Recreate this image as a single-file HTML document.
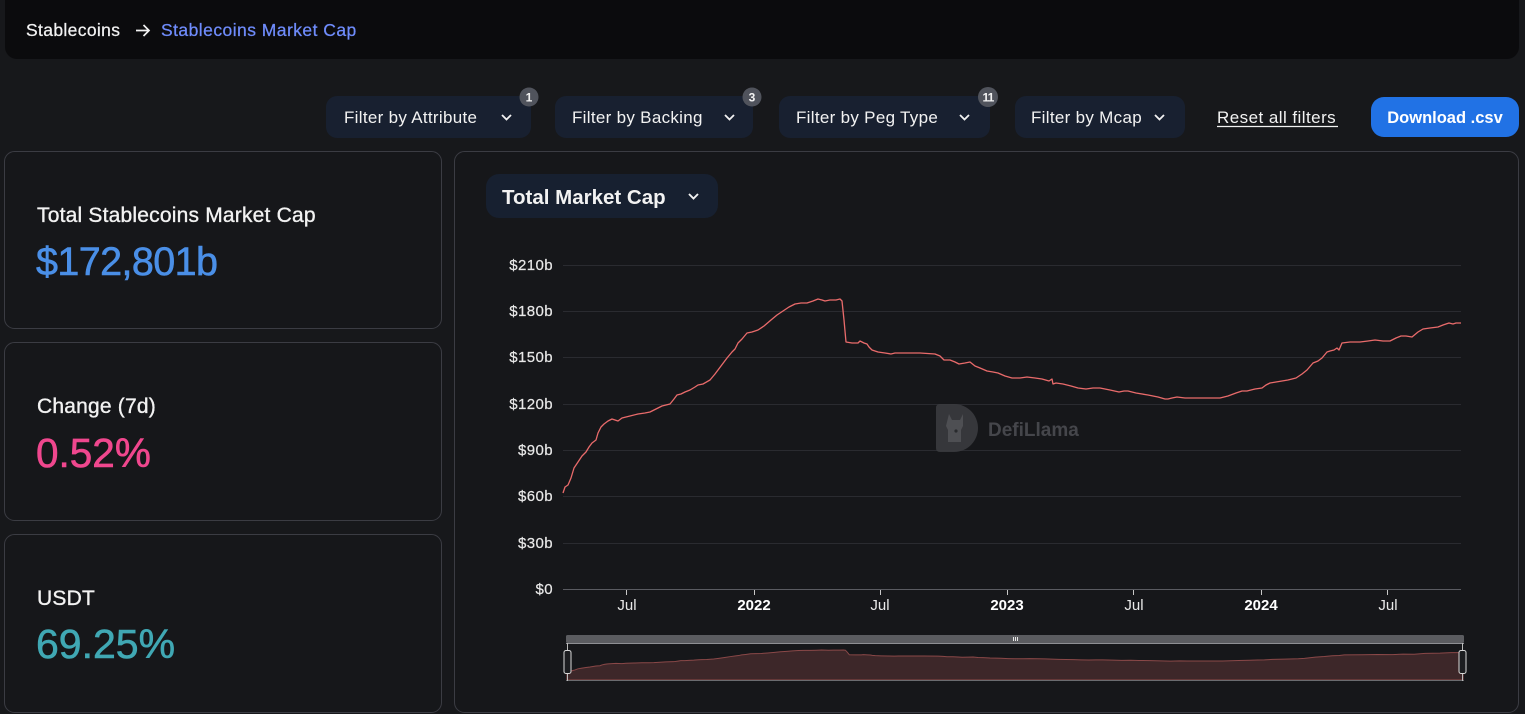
<!DOCTYPE html>
<html><head><meta charset="utf-8"><style>
html,body{margin:0;padding:0;background:#17181b;width:1525px;height:714px;overflow:hidden}
svg{display:block}
text{font-family:"Liberation Sans",Arial,sans-serif}
</style></head><body>
<svg width="1525" height="714" viewBox="0 0 1525 714" xmlns="http://www.w3.org/2000/svg">
<rect x="0" y="0" width="1525" height="714" fill="#17181b"/>
<!-- header -->
<rect x="5" y="-12" width="1514" height="71" rx="12" fill="#0b0b0d"/>
<text x="26" y="36" font-size="17.5" fill="#f2f2f2" stroke="#f2f2f2" stroke-width="0.25" letter-spacing="0.35">Stablecoins</text>
<path d="M136 30.5 H149 M143.5 25 L149 30.5 L143.5 36" stroke="#f2f2f2" stroke-width="1.7" fill="none"/>
<text x="161" y="36" font-size="17.5" fill="#6f8cfb" stroke="#6f8cfb" stroke-width="0.25" letter-spacing="0.45">Stablecoins Market Cap</text>

<!-- filter buttons -->
<g font-size="17" fill="#f2f2f2" letter-spacing="0.3">
<rect x="326" y="96" width="205" height="42" rx="11" fill="#182030"/>
<text x="344" y="123">Filter by Attribute</text>
<rect x="555" y="96" width="198" height="42" rx="11" fill="#182030"/>
<text x="572" y="123">Filter by Backing</text>
<rect x="779" y="96" width="211" height="42" rx="11" fill="#182030"/>
<text x="796" y="123">Filter by Peg Type</text>
<rect x="1015" y="96" width="170" height="42" rx="11" fill="#182030"/>
<text x="1031" y="123">Filter by Mcap</text>
</g>
<g stroke="#f2f2f2" stroke-width="1.8" fill="none">
<path d="M502 115 l4.5 4.5 l4.5 -4.5"/>
<path d="M725 115 l4.5 4.5 l4.5 -4.5"/>
<path d="M960 115 l4.5 4.5 l4.5 -4.5"/>
<path d="M1155 115 l4.5 4.5 l4.5 -4.5"/>
</g>
<g font-size="12" font-weight="bold" fill="#f2f2f2" text-anchor="middle">
<circle cx="529" cy="97" r="9.5" fill="#50535c"/><text x="529" y="101.5">1</text>
<circle cx="752" cy="97" r="9.5" fill="#50535c"/><text x="752" y="101.5">3</text>
<circle cx="988" cy="97" r="10" fill="#50535c"/><text x="988" y="101.5" letter-spacing="-0.8">11</text>
</g>
<text x="1217" y="123" font-size="17" fill="#f2f2f2" letter-spacing="0.45">Reset all filters</text>
<line x1="1217" y1="126.5" x2="1338" y2="126.5" stroke="#f2f2f2" stroke-width="1.2"/>
<rect x="1371" y="97" width="148" height="40" rx="13" fill="#2172e5"/>
<text x="1445" y="123" font-size="16.5" font-weight="bold" fill="#ffffff" text-anchor="middle">Download .csv</text>

<!-- left cards -->
<rect x="4.5" y="151.5" width="437" height="177" rx="10" fill="#16171a" stroke="#3b3c43"/>
<rect x="4.5" y="342.5" width="437" height="178" rx="10" fill="#16171a" stroke="#3b3c43"/>
<rect x="4.5" y="534.5" width="437" height="178" rx="10" fill="#16171a" stroke="#3b3c43"/>
<g font-size="21" fill="#f2f2f2" stroke="#f2f2f2" stroke-width="0.35" letter-spacing="0.2">
<text x="37" y="222">Total Stablecoins Market Cap</text>
<text x="37" y="413">Change (7d)</text>
<text x="37" y="605">USDT</text>
</g>
<text x="36" y="275" font-size="39.5" fill="#4a8fe7" stroke="#4a8fe7" stroke-width="0.6" letter-spacing="-0.6">$172,801b</text>
<text x="36" y="467" font-size="40.5" fill="#f0478e" stroke="#f0478e" stroke-width="0.6">0.52%</text>
<text x="36" y="658" font-size="41" fill="#40a8b4" stroke="#40a8b4" stroke-width="0.6">69.25%</text>

<!-- chart card -->
<rect x="454.5" y="151.5" width="1064" height="561" rx="10" fill="#16171a" stroke="#3b3c43"/>
<rect x="486" y="174" width="232" height="44" rx="13" fill="#172030"/>
<text x="502" y="204" font-size="20.5" font-weight="bold" fill="#f2f2f2">Total Market Cap</text>
<path d="M689 194 l4.5 4.5 l4.5 -4.5" stroke="#f2f2f2" stroke-width="1.9" fill="none"/>

<!-- grid -->
<g stroke="#2a2b30" stroke-width="1">
<line x1="563" y1="265.5" x2="1461" y2="265.5"/>
<line x1="563" y1="311.5" x2="1461" y2="311.5"/>
<line x1="563" y1="357.5" x2="1461" y2="357.5"/>
<line x1="563" y1="404.5" x2="1461" y2="404.5"/>
<line x1="563" y1="450.5" x2="1461" y2="450.5"/>
<line x1="563" y1="496.5" x2="1461" y2="496.5"/>
<line x1="563" y1="543.5" x2="1461" y2="543.5"/>
</g>
<line x1="563" y1="589.5" x2="1461" y2="589.5" stroke="#5a5b61" stroke-width="1"/>
<g stroke="#c8c8c8" stroke-width="1">
<line x1="626.5" y1="590" x2="626.5" y2="595"/>
<line x1="754.5" y1="590" x2="754.5" y2="595"/>
<line x1="880.5" y1="590" x2="880.5" y2="595"/>
<line x1="1007.5" y1="590" x2="1007.5" y2="595"/>
<line x1="1133.5" y1="590" x2="1133.5" y2="595"/>
<line x1="1261.5" y1="590" x2="1261.5" y2="595"/>
<line x1="1387.5" y1="590" x2="1387.5" y2="595"/>
</g>
<g font-size="15" fill="#e8e8e8" text-anchor="end" letter-spacing="0.4" stroke="#e8e8e8" stroke-width="0.2">
<text x="553" y="270">$210b</text>
<text x="553" y="316">$180b</text>
<text x="553" y="362">$150b</text>
<text x="553" y="409">$120b</text>
<text x="553" y="455">$90b</text>
<text x="553" y="501">$60b</text>
<text x="553" y="548">$30b</text>
<text x="553" y="594">$0</text>
</g>
<g font-size="15" fill="#e8e8e8" text-anchor="middle">
<text x="627" y="610">Jul</text>
<text x="754" y="610" font-weight="bold" fill="#ffffff">2022</text>
<text x="880" y="610">Jul</text>
<text x="1007" y="610" font-weight="bold" fill="#ffffff">2023</text>
<text x="1134" y="610">Jul</text>
<text x="1261" y="610" font-weight="bold" fill="#ffffff">2024</text>
<text x="1388" y="610">Jul</text>
</g>

<!-- watermark -->
<g opacity="0.9">
<path d="M940 404 H954 A24 24 0 0 1 954 452 H940 Q936 452 936 448 V408 Q936 404 940 404 Z" fill="#3a3b3f"/>
<path d="M949 414 l3 6 h8 l3 -6 v12 l-2 4 v12 h-13 v-12 l-2 -4 z" fill="#55565a"/>
<circle cx="956" cy="431" r="1.6" fill="#2c2d30"/>
<text x="988" y="436" font-size="19" font-weight="bold" fill="#4b4c51">DefiLlama</text>
</g>

<!-- main line -->
<polyline fill="none" stroke="#e96b6b" stroke-width="1.3" stroke-linejoin="round" points="563,493 565,487 568,485 571,478 574,468 578,462 582,456 586,452 589,447 592,443 596,440 598,433 601,427 604,424 608,421 612,419 618,421 622,418 630,416 638,414 645,413 650,412 656,409 662,406 670,404 674,399 677,395 681,394 685,392 690,390 695,387 698,385 703,384 710,380 715,374 721,366 727,358 732,352 735,349 738,343 742,339 747,333 752,332 758,330 764,326 771,320 777,315 783,311 789,307 795,304 801,303 807,303 813,301 818,299 822,300 825,301 830,300 836,300 840,299 842,301 844,320 846,342 852,343 858,343 860,341 864,343 867,344 869,347 872,350 878,352 885,353 891,354 895,353 905,353 920,353 935,354 940,356 944,360 950,360 955,362 959,364 965,363 970,362 975,366 980,368 987,371 993,372 998,373 1005,376 1012,378 1020,378 1027,377 1035,378 1042,379 1049,381 1052,379 1053,384 1056,383 1063,384 1071,386 1078,388 1086,389 1093,388 1100,388 1110,390 1119,392 1124,391 1128,391 1136,393 1148,395 1158,397 1165,399 1168,399 1172,398 1177,397 1185,398 1195,398 1207,398 1214,398 1220,398 1228,396 1236,393 1242,391 1247,391 1255,389 1262,388 1266,385 1270,383 1276,382 1282,381 1288,380 1296,378 1302,374 1307,370 1313,363 1318,361 1322,358 1327,352 1330,351 1334,350 1337,348 1339,350 1342,343 1350,342 1360,342 1368,341 1375,340 1383,341 1390,341 1396,338 1401,336 1406,336 1412,337 1418,332 1423,329 1430,328 1438,327 1443,325 1449,323 1453,324 1456,323 1461,323"/>

<!-- data zoom slider -->
<rect x="566" y="635" width="898" height="8" rx="1.5" fill="#5b5c60"/>
<g transform="matrix(0.99777 0 0 0.11145 5.256 616.66)">
<polygon fill="#3d2729" stroke="#8a4848" stroke-width="1" vector-effect="non-scaling-stroke" points="563,568.3 563,493 565,487 568,485 571,478 574,468 578,462 582,456 586,452 589,447 592,443 596,440 598,433 601,427 604,424 608,421 612,419 618,421 622,418 630,416 638,414 645,413 650,412 656,409 662,406 670,404 674,399 677,395 681,394 685,392 690,390 695,387 698,385 703,384 710,380 715,374 721,366 727,358 732,352 735,349 738,343 742,339 747,333 752,332 758,330 764,326 771,320 777,315 783,311 789,307 795,304 801,303 807,303 813,301 818,299 822,300 825,301 830,300 836,300 840,299 842,301 844,320 846,342 852,343 858,343 860,341 864,343 867,344 869,347 872,350 878,352 885,353 891,354 895,353 905,353 920,353 935,354 940,356 944,360 950,360 955,362 959,364 965,363 970,362 975,366 980,368 987,371 993,372 998,373 1005,376 1012,378 1020,378 1027,377 1035,378 1042,379 1049,381 1056,383 1063,384 1071,386 1078,388 1086,389 1093,388 1100,388 1110,390 1119,392 1128,391 1136,393 1148,395 1158,397 1168,399 1177,397 1185,398 1195,398 1207,398 1220,398 1228,396 1236,393 1247,391 1255,389 1262,388 1270,383 1282,381 1296,378 1302,374 1313,363 1322,358 1330,351 1337,348 1342,343 1360,342 1375,340 1390,341 1401,336 1412,337 1423,329 1438,327 1449,323 1461,323 1461,568.3"/>
</g>
<line x1="566" y1="643.5" x2="1464" y2="643.5" stroke="#8e8f93" stroke-width="1"/>
<line x1="566" y1="680.5" x2="1464" y2="680.5" stroke="#6a6b6f" stroke-width="1"/>
<line x1="567.5" y1="643" x2="567.5" y2="681" stroke="#bbbbbb" stroke-width="1"/>
<line x1="1462.5" y1="643" x2="1462.5" y2="681" stroke="#bbbbbb" stroke-width="1"/>
<rect x="564" y="650.5" width="7" height="23" rx="2" fill="#1c1d20" stroke="#d8d8d8" stroke-width="1"/>
<rect x="1459" y="650.5" width="7" height="23" rx="2" fill="#1c1d20" stroke="#d8d8d8" stroke-width="1"/>
<g stroke="#e8e8e8" stroke-width="1">
<line x1="1013.5" y1="637" x2="1013.5" y2="641"/>
<line x1="1015.5" y1="637" x2="1015.5" y2="641"/>
<line x1="1017.5" y1="637" x2="1017.5" y2="641"/>
</g>
</svg>
</body></html>
